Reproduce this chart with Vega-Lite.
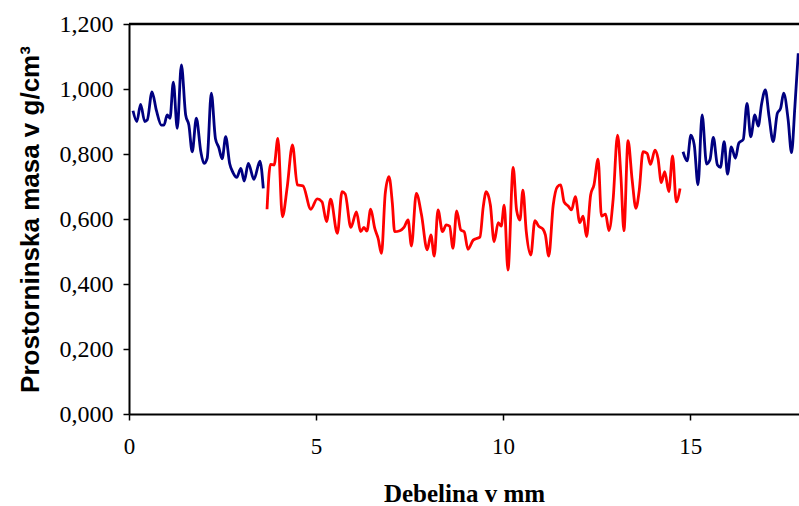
{
  "$schema": "https://vega.github.io/schema/vega-lite/v6.json",
  "width": 670,
  "height": 390,
  "autosize": {"type": "none"},
  "padding": {"left": 129, "top": 24, "right": 0, "bottom": 92},
  "background": "white",
  "config": {
    "view": {"stroke": null},
    "axis": {"grid": false, "domainColor": "black", "domainWidth": 2, "tickColor": "black", "tickWidth": 1.5, "labelColor": "black", "titleColor": "black"}
  },
  "datasets": {
    "pts": [
      {"x":0.107,"y":0.933,"s":"A"},{"x":0.21,"y":0.90,"s":"A"},{"x":0.31,"y":0.953,"s":"A"},{"x":0.42,"y":0.90,"s":"A"},{"x":0.49,"y":0.905,"s":"A"},{"x":0.615,"y":0.991,"s":"A"},{"x":0.73,"y":0.935,"s":"A"},{"x":0.865,"y":0.889,"s":"A"},{"x":0.936,"y":0.889,"s":"A"},{"x":1.02,"y":0.92,"s":"A"},{"x":1.096,"y":0.91,"s":"A"},{"x":1.185,"y":1.021,"s":"A"},{"x":1.29,"y":0.879,"s":"A"},{"x":1.40,"y":1.074,"s":"A"},{"x":1.515,"y":0.92,"s":"A"},{"x":1.60,"y":0.889,"s":"A"},{"x":1.69,"y":0.807,"s":"A"},{"x":1.80,"y":0.91,"s":"A"},{"x":1.92,"y":0.807,"s":"A"},{"x":2.005,"y":0.771,"s":"A"},{"x":2.09,"y":0.787,"s":"A"},{"x":2.20,"y":0.987,"s":"A"},{"x":2.31,"y":0.848,"s":"A"},{"x":2.40,"y":0.82,"s":"A"},{"x":2.49,"y":0.785,"s":"A"},{"x":2.585,"y":0.853,"s":"A"},{"x":2.69,"y":0.771,"s":"A"},{"x":2.78,"y":0.743,"s":"A"},{"x":2.88,"y":0.728,"s":"A"},{"x":2.99,"y":0.756,"s":"A"},{"x":3.08,"y":0.717,"s":"A"},{"x":3.19,"y":0.771,"s":"A"},{"x":3.34,"y":0.722,"s":"A"},{"x":3.50,"y":0.778,"s":"A"},{"x":3.59,"y":0.694,"s":"A"},
      {"x":3.69,"y":0.63,"s":"B"},{"x":3.78,"y":0.768,"s":"B"},{"x":3.88,"y":0.766,"s":"B"},{"x":3.98,"y":0.848,"s":"B"},{"x":4.10,"y":0.607,"s":"B"},{"x":4.23,"y":0.699,"s":"B"},{"x":4.37,"y":0.828,"s":"B"},{"x":4.50,"y":0.705,"s":"B"},{"x":4.65,"y":0.702,"s":"B"},{"x":4.86,"y":0.63,"s":"B"},{"x":5.03,"y":0.662,"s":"B"},{"x":5.16,"y":0.653,"s":"B"},{"x":5.28,"y":0.592,"s":"B"},{"x":5.39,"y":0.661,"s":"B"},{"x":5.57,"y":0.556,"s":"B"},{"x":5.695,"y":0.684,"s":"B"},{"x":5.78,"y":0.677,"s":"B"},{"x":5.93,"y":0.574,"s":"B"},{"x":6.08,"y":0.622,"s":"B"},{"x":6.19,"y":0.561,"s":"B"},{"x":6.28,"y":0.574,"s":"B"},{"x":6.36,"y":0.563,"s":"B"},{"x":6.46,"y":0.63,"s":"B"},{"x":6.57,"y":0.571,"s":"B"},{"x":6.66,"y":0.54,"s":"B"},{"x":6.75,"y":0.494,"s":"B"},{"x":6.85,"y":0.679,"s":"B"},{"x":6.95,"y":0.73,"s":"B"},{"x":7.04,"y":0.648,"s":"B"},{"x":7.10,"y":0.561,"s":"B"},{"x":7.24,"y":0.564,"s":"B"},{"x":7.35,"y":0.574,"s":"B"},{"x":7.46,"y":0.597,"s":"B"},{"x":7.55,"y":0.517,"s":"B"},{"x":7.68,"y":0.679,"s":"B"},{"x":7.82,"y":0.612,"s":"B"},{"x":7.97,"y":0.505,"s":"B"},{"x":8.07,"y":0.551,"s":"B"},{"x":8.16,"y":0.486,"s":"B"},{"x":8.26,"y":0.628,"s":"B"},{"x":8.38,"y":0.561,"s":"B"},{"x":8.48,"y":0.582,"s":"B"},{"x":8.57,"y":0.578,"s":"B"},{"x":8.66,"y":0.51,"s":"B"},{"x":8.76,"y":0.625,"s":"B"},{"x":8.87,"y":0.566,"s":"B"},{"x":8.96,"y":0.561,"s":"B"},{"x":9.06,"y":0.507,"s":"B"},{"x":9.20,"y":0.535,"s":"B"},{"x":9.29,"y":0.54,"s":"B"},{"x":9.38,"y":0.544,"s":"B"},{"x":9.47,"y":0.638,"s":"B"},{"x":9.55,"y":0.684,"s":"B"},{"x":9.66,"y":0.643,"s":"B"},{"x":9.76,"y":0.53,"s":"B"},{"x":9.87,"y":0.589,"s":"B"},{"x":9.95,"y":0.578,"s":"B"},{"x":10.03,"y":0.643,"s":"B"},{"x":10.13,"y":0.443,"s":"B"},{"x":10.27,"y":0.759,"s":"B"},{"x":10.36,"y":0.628,"s":"B"},{"x":10.45,"y":0.597,"s":"B"},{"x":10.53,"y":0.689,"s":"B"},{"x":10.62,"y":0.561,"s":"B"},{"x":10.74,"y":0.489,"s":"B"},{"x":10.85,"y":0.595,"s":"B"},{"x":10.95,"y":0.578,"s":"B"},{"x":11.07,"y":0.568,"s":"B"},{"x":11.13,"y":0.551,"s":"B"},{"x":11.22,"y":0.486,"s":"B"},{"x":11.34,"y":0.643,"s":"B"},{"x":11.45,"y":0.699,"s":"B"},{"x":11.54,"y":0.705,"s":"B"},{"x":11.63,"y":0.653,"s":"B"},{"x":11.74,"y":0.64,"s":"B"},{"x":11.83,"y":0.628,"s":"B"},{"x":11.93,"y":0.669,"s":"B"},{"x":12.05,"y":0.589,"s":"B"},{"x":12.14,"y":0.609,"s":"B"},{"x":12.23,"y":0.546,"s":"B"},{"x":12.34,"y":0.674,"s":"B"},{"x":12.43,"y":0.705,"s":"B"},{"x":12.54,"y":0.784,"s":"B"},{"x":12.63,"y":0.609,"s":"B"},{"x":12.74,"y":0.615,"s":"B"},{"x":12.83,"y":0.564,"s":"B"},{"x":12.94,"y":0.658,"s":"B"},{"x":13.06,"y":0.858,"s":"B"},{"x":13.15,"y":0.73,"s":"B"},{"x":13.23,"y":0.564,"s":"B"},{"x":13.34,"y":0.841,"s":"B"},{"x":13.45,"y":0.72,"s":"B"},{"x":13.55,"y":0.633,"s":"B"},{"x":13.64,"y":0.689,"s":"B"},{"x":13.74,"y":0.807,"s":"B"},{"x":13.85,"y":0.802,"s":"B"},{"x":13.94,"y":0.768,"s":"B"},{"x":14.06,"y":0.812,"s":"B"},{"x":14.14,"y":0.787,"s":"B"},{"x":14.23,"y":0.712,"s":"B"},{"x":14.32,"y":0.746,"s":"B"},{"x":14.43,"y":0.684,"s":"B"},{"x":14.53,"y":0.794,"s":"B"},{"x":14.63,"y":0.653,"s":"B"},{"x":14.73,"y":0.694,"s":"B"},
      {"x":14.81,"y":0.807,"s":"C"},{"x":14.92,"y":0.779,"s":"C"},{"x":15.02,"y":0.858,"s":"C"},{"x":15.11,"y":0.828,"s":"C"},{"x":15.21,"y":0.705,"s":"C"},{"x":15.32,"y":0.92,"s":"C"},{"x":15.44,"y":0.769,"s":"C"},{"x":15.53,"y":0.782,"s":"C"},{"x":15.62,"y":0.851,"s":"C"},{"x":15.73,"y":0.766,"s":"C"},{"x":15.81,"y":0.759,"s":"C"},{"x":15.91,"y":0.838,"s":"C"},{"x":16.0,"y":0.738,"s":"C"},{"x":16.10,"y":0.822,"s":"C"},{"x":16.21,"y":0.787,"s":"C"},{"x":16.30,"y":0.833,"s":"C"},{"x":16.42,"y":0.845,"s":"C"},{"x":16.52,"y":0.956,"s":"C"},{"x":16.62,"y":0.853,"s":"C"},{"x":16.73,"y":0.92,"s":"C"},{"x":16.82,"y":0.886,"s":"C"},{"x":16.91,"y":0.954,"s":"C"},{"x":17.01,"y":0.997,"s":"C"},{"x":17.11,"y":0.915,"s":"C"},{"x":17.22,"y":0.838,"s":"C"},{"x":17.33,"y":0.925,"s":"C"},{"x":17.42,"y":0.941,"s":"C"},{"x":17.50,"y":0.987,"s":"C"},{"x":17.62,"y":0.905,"s":"C"},{"x":17.71,"y":0.804,"s":"C"},{"x":17.80,"y":0.946,"s":"C"},{"x":17.89,"y":1.11,"s":"C"}
    ],
    "frame": [{"y": 1.2}]
  },
  "layer": [
    {
      "data": {"name": "frame"},
      "mark": {"type": "rule", "color": "black", "strokeWidth": 2.5},
      "encoding": {
        "y": {"field": "y", "type": "quantitative", "scale": {"domain": [0, 1.2]}}
      }
    },
    {
      "data": {"name": "pts"},
      "mark": {"type": "line", "interpolate": "monotone", "strokeWidth": 2.8, "clip": true},
      "encoding": {
        "x": {
          "field": "x", "type": "quantitative",
          "scale": {"domain": [0, 17.91], "nice": false},
          "axis": {
            "values": [0, 5, 10, 15],
            "title": "Debelina v mm",
            "titleFont": "Liberation Serif", "titleFontSize": 25, "titleFontWeight": "bold",
            "titlePadding": 23,
            "labelFont": "Liberation Serif", "labelFontSize": 23,
            "labelPadding": 15, "tickSize": 6, "labelFlush": false
          }
        },
        "y": {
          "field": "y", "type": "quantitative",
          "scale": {"domain": [0, 1.2], "nice": false},
          "axis": {
            "values": [0, 0.2, 0.4, 0.6, 0.8, 1.0, 1.2],
            "labelExpr": "replace(format(datum.value, '.3f'), '.', ',')",
            "title": "Prostorninska masa v g/cm³",
            "titleFont": "Liberation Sans", "titleFontSize": 26, "titleFontWeight": "bold",
            "titlePadding": 16,
            "labelFont": "Liberation Serif", "labelFontSize": 24,
            "labelPadding": 10, "tickSize": 6
          }
        },
        "color": {
          "field": "s", "type": "nominal",
          "scale": {"domain": ["A", "B", "C"], "range": ["#000080", "#FF0000", "#000080"]},
          "legend": null
        }
      }
    }
  ]
}
